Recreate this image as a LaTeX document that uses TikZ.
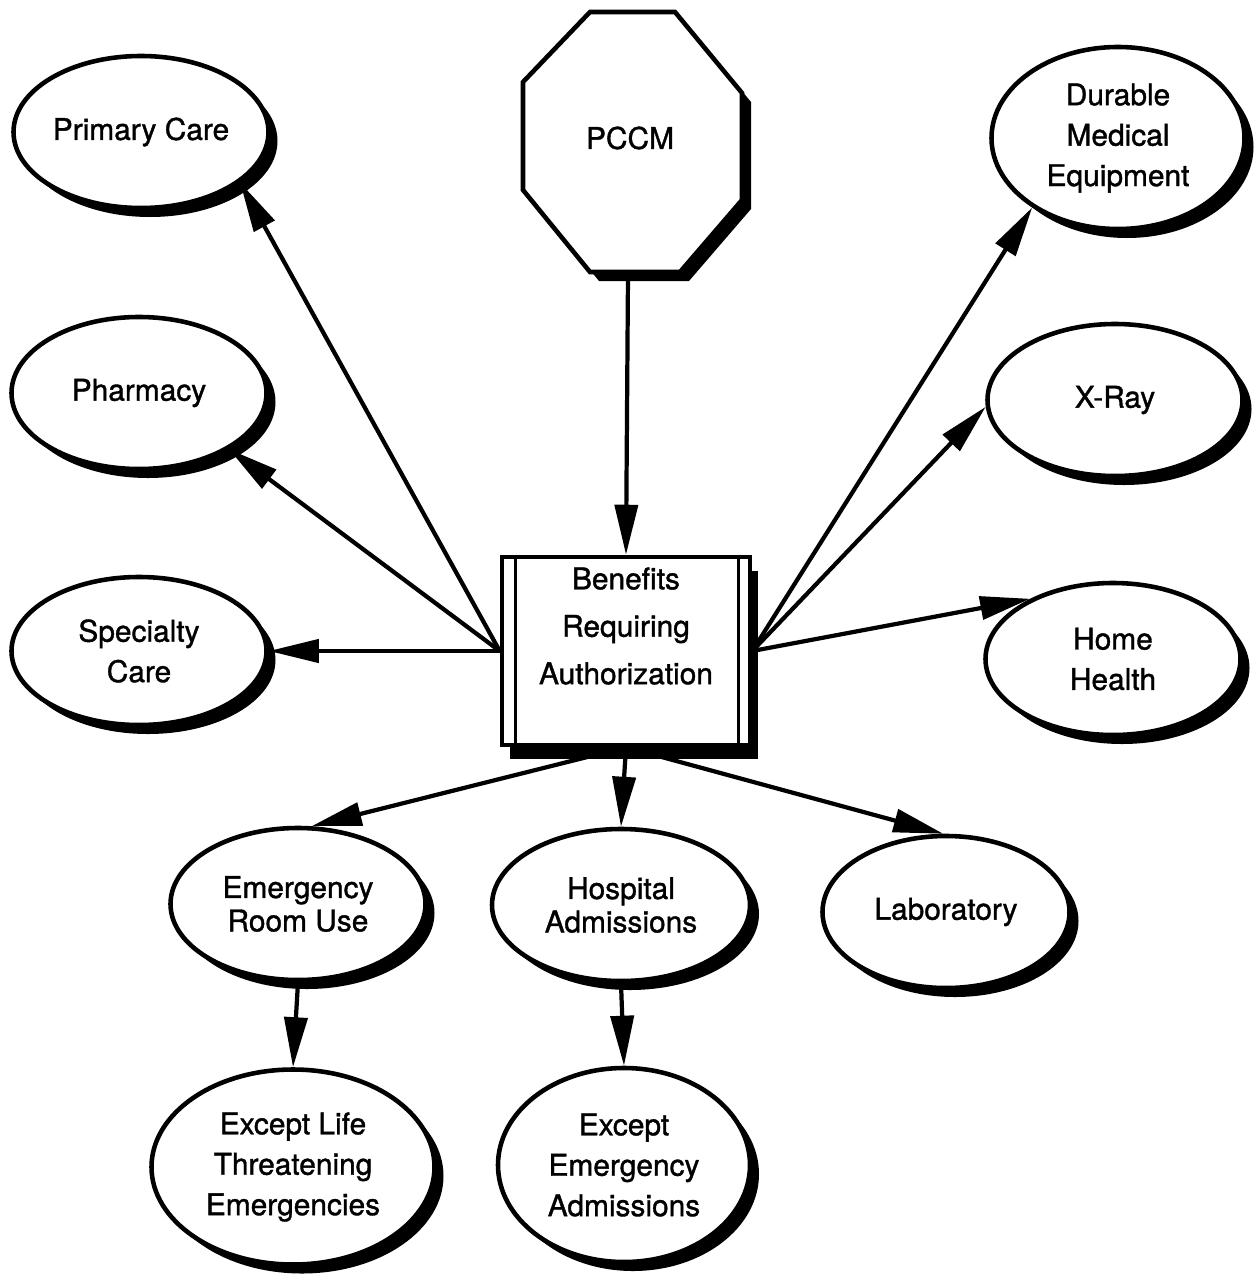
\documentclass[tikz,border=0pt]{standalone}
\usepackage{fontspec}
\setmainfont{TeX Gyre Heros}
\newfontfamily\heavyfont{TeX Gyre Heros}[FakeBold=1.2]
\usetikzlibrary{arrows.meta,shapes.geometric,shadows}

\tikzset{
  blackshadow/.style={drop shadow={shadow xshift=0.09cm,shadow yshift=-0.09cm,opacity=1,fill=black}},
  label/.style={font=\heavyfont\fontsize{8.5}{11.5}\selectfont, align=center},
  service/.style={ellipse, draw, line width=1.3pt, fill=white, blackshadow, label,
    minimum width=2.55cm, minimum height=1.52cm, inner sep=0pt},
  snug/.style={font=\heavyfont\fontsize{8.5}{9.5}\selectfont},
  hub/.style={rectangle, draw, line width=1.3pt, fill=white,
    drop shadow={shadow xshift=0.08cm,shadow yshift=-0.14cm,opacity=1,fill=black},
    minimum width=2.48cm, minimum height=1.88cm, inner sep=0pt},
  link/.style={line width=1.2pt, -{Triangle[length=0.5cm,width=0.23cm]}}
}

\begin{document}
\begin{tikzpicture}
    \useasboundingbox (0,0) rectangle (12.59,-12.76);
    % octagon
    \filldraw[fill=white, line width=1.3pt, blackshadow] (5.90,-0.12) -- (6.75,-0.12) -- (7.42,-0.93) -- (7.42,-2.00)
        -- (6.80,-2.72) -- (5.90,-2.72) -- (5.23,-1.90) -- (5.23,-0.82) -- cycle;
    \node[label] (pccm) at (6.30,-1.38) {PCCM};
    \coordinate (pccmfoot) at (6.28,-2.74);

    \node[hub] (box) at (6.26,-6.51) {};
    \draw[line width=0.8pt] ([xshift=0.16cm]box.north west) -- ([xshift=0.16cm]box.south west);
    \draw[line width=0.8pt] ([xshift=-0.14cm]box.north east) -- ([xshift=-0.14cm]box.south east);
    \node[label, font=\heavyfont\fontsize{8.5}{13.5}\selectfont] (boxtext) at ([yshift=0.25cm]box.center) {Benefits\\Requiring\\Authorization};

    \node[service] (prim) at (1.41,-1.32) {Primary Care};
    \node[service] (pharm) at (1.39,-3.93) {Pharmacy};
    \node[service, minimum height=1.48cm] (spec) at (1.39,-6.51) {Specialty\\Care};
    \node[service, minimum width=2.53cm, minimum height=1.82cm] (dme) at (11.18,-1.38) {Durable\\Medical\\Equipment};
    \node[service] (xray) at (11.15,-4.00) {X-Ray};
    \node[service] (home) at (11.13,-6.59) {Home\\Health};
    \node[service, snug] (er) at (2.98,-9.04) {Emergency\\Room Use};
    \node[service, snug, minimum width=2.58cm] (hosp) at (6.21,-9.05) {Hospital\\Admissions};
    \node[service, minimum width=2.47cm] (lab) at (9.46,-9.12) {Laboratory};
    \node[service, minimum width=2.83cm, minimum height=1.95cm] (exlife) at (2.93,-11.67) {Except Life\\Threatening\\Emergencies};
    \node[service, minimum width=2.52cm, minimum height=1.94cm] (exadm) at (6.24,-11.65) {Except\\Emergency\\Admissions};

    \draw[link] (pccmfoot) -- (box.north);
    \draw[link] (box.west) -- (prim.-27);
    \draw[link] (box.west) -- (pharm.-32);
    \draw[link] (box.west) -- (spec);
    \draw[link] (box.east) -- (dme.219);
    \draw[link] (box.east) -- (xray.183);
    \draw[link] (box.east) -- (home.144);
    \draw[link] (box.south) -- (er.80);
    \draw[link] (box.south) -- (hosp.north);
    \draw[link] (box.south) -- (lab.92);
    \draw[link] (er.south) -- (exlife.north);
    \draw[link] (hosp.south) -- (exadm.north);
\end{tikzpicture}
\end{document}
